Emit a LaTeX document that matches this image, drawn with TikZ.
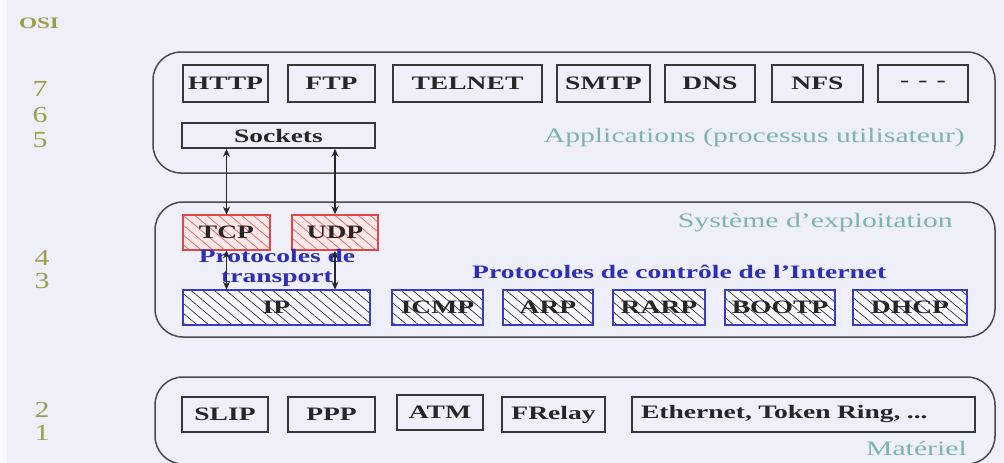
\documentclass[tikz,border=0pt]{standalone}
\usepackage{fontspec}
\setmainfont{Liberation Serif}
\newfontfamily\widefont[FakeStretch=1.45]{Liberation Serif}
\newfontfamily\numfont[FakeStretch=1.3]{Liberation Serif}
\usetikzlibrary{arrows.meta,patterns.meta}

\definecolor{bgcol}{HTML}{EFEFF9}
\definecolor{olive}{HTML}{9E9E48}
\definecolor{layertxt}{HTML}{7DB3B3}
\definecolor{ctrlblue}{HTML}{2E2EB8}
\definecolor{framecol}{HTML}{4A4A4A}
\definecolor{boxcol}{HTML}{383838}
\definecolor{tcpred}{HTML}{E04848}
\definecolor{ipblue}{HTML}{3A3AC8}
\definecolor{hatchdark}{HTML}{2C2C50}

\tikzset{
  layer/.style={draw=framecol, line width=1.5pt, rounded corners=28pt},
  pbox/.style={draw=boxcol, line width=1.6pt, inner sep=0pt,
    font=\widefont\bfseries\fontsize{19}{22}\selectfont, text=black!85},
  tpbox/.style={pbox, draw=tcpred, preaction={fill=red!9},
    pattern={Lines[angle=-40,distance=7.5pt,line width=0.8pt]}, pattern color=tcpred!80},
  ipbox/.style={pbox, draw=ipblue, preaction={fill=white!70!bgcol},
    pattern={Lines[angle=-40,distance=7.5pt,line width=0.7pt]}, pattern color=hatchdark},
  layerlabel/.style={inner sep=0pt, text=layertxt,
    font=\widefont\fontsize{20.5}{24}\selectfont},
  osinum/.style={inner sep=0pt, text=olive,
    font=\numfont\fontsize{23}{26}\selectfont},
  bluelabel/.style={inner sep=0pt, text=ctrlblue,
    font=\widefont\bfseries\fontsize{19}{22}\selectfont},
  link/.style={{Stealth[length=8pt,width=7pt]}-{Stealth[length=8pt,width=7pt]},
    line width=1.8pt, draw=black!85},
}

\begin{document}
\begin{tikzpicture}[x=1pt,y=-1pt]
  % page and background
  \useasboundingbox (0,0) rectangle (1004,463);
  \fill[bgcol] (0,0) rectangle (1004,463);
  \fill[white!60!bgcol] (0,0) rectangle (7,463);

  % OSI layer numbers
  \node[osinum, font=\widefont\bfseries\fontsize{16}{18}\selectfont] (osi) at (39,23) {OSI};
  \node[osinum] (n7) at (40,89) {7};
  \node[osinum] (n6) at (40,115) {6};
  \node[osinum] (n5) at (40,140) {5};
  \node[osinum] (n4) at (42,258) {4};
  \node[osinum] (n3) at (42,281) {3};
  \node[osinum] (n2) at (42,410) {2};
  \node[osinum] (n1) at (42,433) {1};

  % layer frames
  \draw[layer] (153,52) rectangle (995,173);
  \draw[layer] (155,202) rectangle (995,337);
  \draw[layer] (155,377) rectangle (995,464);

  % applications
  \node[pbox, minimum width=85pt,  minimum height=37pt] (http)   at (225.5,83.5) {HTTP};
  \node[pbox, minimum width=87pt,  minimum height=37pt] (ftp)    at (331.5,83.5) {FTP};
  \node[pbox, minimum width=149pt, minimum height=37pt] (telnet) at (467.5,83.5) {TELNET};
  \node[pbox, minimum width=93pt,  minimum height=37pt] (smtp)   at (603.5,83.5) {SMTP};
  \node[pbox, minimum width=90pt,  minimum height=37pt] (dns)    at (710,83.5) {DNS};
  \node[pbox, minimum width=91pt,  minimum height=37pt] (nfs)    at (817.5,83.5) {NFS};
  \node[pbox, minimum width=90pt,  minimum height=37pt] (more)   at (923,83.5) {-\hspace{9pt}-\hspace{9pt}-};
  \node[pbox, minimum width=193pt, minimum height=25pt] (sockets) at (278.5,135.5) {Sockets};
  \node[layerlabel, anchor=east] (applbl) at (965,138) {Applications (processus utilisateur)};

  % operating system: transport and internet protocols
  \node[layerlabel, anchor=east] (oslbl) at (953,223) {Système d’exploitation};
  \node[tpbox, minimum width=87pt, minimum height=35pt] (tcp) at (226.5,232.5) {TCP};
  \node[tpbox, minimum width=86pt, minimum height=35pt] (udp) at (335,232.5) {UDP};
  \node[bluelabel, align=center] (translbl) at (277,268) {Protocoles de\\[-2pt]transport};
  \node[bluelabel, anchor=west] (ctrllbl) at (472,272) {Protocoles de contrôle de l’Internet};
  \node[ipbox, minimum width=187pt, minimum height=35pt] (ip)    at (276.5,307.5) {IP};
  \node[ipbox, minimum width=91pt,  minimum height=35pt] (icmp)  at (437.5,307.5) {ICMP};
  \node[ipbox, minimum width=90pt,  minimum height=35pt] (arp)   at (548,307.5) {ARP};
  \node[ipbox, minimum width=92pt,  minimum height=35pt] (rarp)  at (659,307.5) {RARP};
  \node[ipbox, minimum width=110pt, minimum height=35pt] (bootp) at (780,307.5) {BOOTP};
  \node[ipbox, minimum width=114pt, minimum height=35pt] (dhcp)  at (910,307.5) {DHCP};

  % links between sockets, transport and IP
  \draw[link] (sockets.south -| tcp.north) -- (tcp.north);
  \draw[link] (sockets.south -| udp.north) -- (udp.north);
  \draw[link] (tcp.south) -- (tcp.south |- ip.north);
  \draw[link] (udp.south) -- (udp.south |- ip.north);

  % hardware
  \node[pbox, minimum width=86pt,  minimum height=35pt] (slip)   at (225,414.5) {SLIP};
  \node[pbox, minimum width=87pt,  minimum height=35pt] (ppp)    at (331.5,414.5) {PPP};
  \node[pbox, minimum width=86pt,  minimum height=35pt] (atm)    at (440,412.5) {ATM};
  \node[pbox, minimum width=103pt, minimum height=35pt] (frelay) at (553.5,414.5) {FRelay};
  \node[pbox, minimum height=35pt, inner xsep=9pt, text width=325pt, align=left] (eth) at (803.5,414.5) {Ethernet, Token Ring, ...};
  \node[layerlabel, anchor=east] (hwlbl) at (967,448) {Matériel};
\end{tikzpicture}
\end{document}
